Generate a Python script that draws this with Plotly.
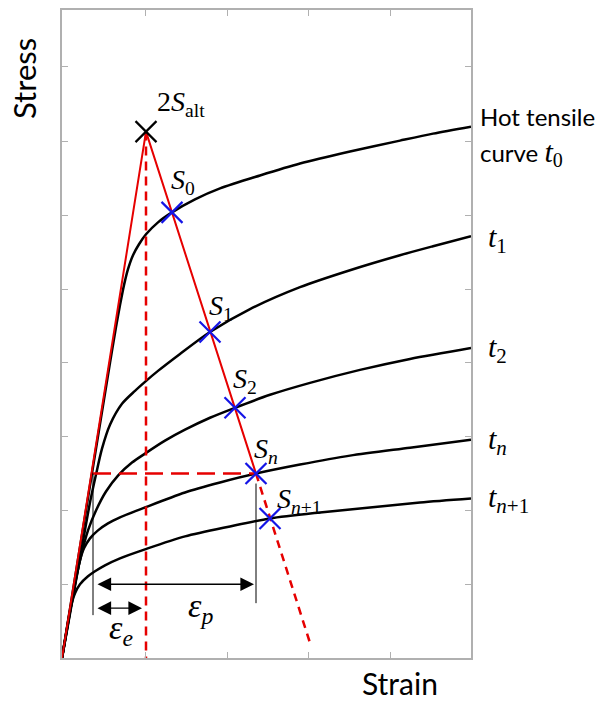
import plotly.graph_objects as go

# ---- data (strain, stress) in arbitrary units ----
t0_x = [0, 28, 48, 54, 58, 62, 66, 71, 77, 84, 96, 110, 133, 158, 198, 238, 288, 338, 371, 409]
t0_y = [0, 173, 296, 332, 354, 374, 390, 404, 415, 425, 437, 447, 460, 471, 484, 496, 508, 519, 526, 533]
t1_x = [0, 18, 28, 34, 40, 48, 60, 73, 83, 96, 118, 148, 188, 238, 288, 338, 371, 409]
t1_y = [0, 100, 156, 184, 210, 234, 255, 268, 277, 288, 305, 327, 350, 372, 389, 404, 413, 423]
t2_x = [0, 10, 18, 26, 34, 44, 56, 70, 83, 103, 123, 148, 173, 208, 248, 298, 348, 409]
t2_y = [0, 58, 98, 128, 148, 167, 183, 196, 205, 218, 229, 241, 251, 264, 276, 289, 300, 311]
tn_x = [0, 8, 14, 18, 22, 28, 36, 46, 58, 83, 123, 158, 194, 238, 288, 348, 409]
tn_y = [0, 46, 80, 98, 110, 120, 128, 135, 141, 151, 166, 176, 185, 194, 203, 211, 219]
tn1_x = [0, 5, 9, 13, 18, 26, 33, 43, 58, 83, 123, 168, 208, 258, 308, 358, 409]
tn1_y = [0, 30, 52, 65, 74, 82, 87, 93, 100, 109, 122, 132, 140, 146, 151, 156, 160]

peak_x, peak_y = 84, 528
s_x = [110, 148, 173, 194, 208]
s_y = [447, 327, 251, 185, 140]
unload_end_x, unload_end_y = 249, 12
eps_left = 31
eps_y_p = 74
eps_y_e = 50

RED = "#e60000"
BLUE = "#1414e6"
GRAY = "#b0b0b0"
MATH = "Liberation Serif"
SANS = "Lato"

fig = go.Figure()

for xs, ys in [(t0_x, t0_y), (t1_x, t1_y), (t2_x, t2_y), (tn_x, tn_y), (tn1_x, tn1_y)]:
    fig.add_trace(go.Scatter(x=xs, y=ys, mode="lines",
                             line=dict(color="black", width=2.5, shape="spline", smoothing=0.8),
                             hoverinfo="skip"))

# red loading / unloading line
fig.add_trace(go.Scatter(x=[0, peak_x, s_x[3]], y=[0, peak_y, s_y[3]], mode="lines",
                         line=dict(color=RED, width=2)))
fig.add_trace(go.Scatter(x=[s_x[3], unload_end_x], y=[s_y[3], unload_end_y], mode="lines",
                         line=dict(color=RED, width=2.5, dash="8px,6px")))
# vertical dashed at peak strain
fig.add_trace(go.Scatter(x=[peak_x, peak_x], y=[peak_y, 0], mode="lines",
                         line=dict(color=RED, width=2.5, dash="9px,6px")))
# horizontal dashed
fig.add_trace(go.Scatter(x=[eps_left, s_x[3]], y=[s_y[3], s_y[3]], mode="lines",
                         line=dict(color=RED, width=2.5, dash="18px,8px")))
# thin black verticals
fig.add_trace(go.Scatter(x=[eps_left, eps_left], y=[s_y[3], 43], mode="lines",
                         line=dict(color="black", width=1)))
fig.add_trace(go.Scatter(x=[s_x[3], s_x[3]], y=[175, 55], mode="lines",
                         line=dict(color="black", width=1)))

# markers
fig.add_trace(go.Scatter(x=s_x, y=s_y, mode="markers",
                         marker=dict(symbol="x-thin", size=21, line=dict(color=BLUE, width=2.2))))
fig.add_trace(go.Scatter(x=[peak_x], y=[peak_y], mode="markers",
                         marker=dict(symbol="x-thin", size=21, line=dict(color="black", width=2.2))))

ann = []
# double arrows
for x0, x1, yy in [(34, 192, eps_y_p), (34, 80, eps_y_e)]:
    ann.append(dict(x=x1, y=yy, ax=x0, ay=yy, xref="x", yref="y", axref="x", ayref="y",
                    text="", showarrow=True, arrowhead=2, arrowside="end+start",
                    arrowsize=2.1, arrowwidth=1.3, arrowcolor="black", standoff=0, startstandoff=0))

def it(base, sub):
    sub_html = "".join("<i>%s</i>" % c if c.isalpha() else c for c in sub)
    return "<i>%s</i><sub>%s</sub>" % (base, sub_html)

ann.append(dict(x=59, y=28, text=it("ε", "e"), showarrow=False,
                font=dict(family=MATH, size=34, color="black")))
ann.append(dict(x=138, y=50, text=it("ε", "p"), showarrow=False,
                font=dict(family=MATH, size=34, color="black")))

# S labels
s_subs = ["0", "1", "2", "n", "n+1"]
s_lab_x = [121, 159, 183, 204, 237]
s_lab_y = [478, 352, 278, 208, 158]
for sub, lx, ly in zip(s_subs, s_lab_x, s_lab_y):
    ann.append(dict(x=lx, y=ly, text=it("S", sub), showarrow=False,
                    font=dict(family=MATH, size=28, color="black")))
ann.append(dict(x=119, y=556, text="2<i>S</i><sub>alt</sub>", showarrow=False,
                font=dict(family=MATH, size=28, color="black")))

# right curve labels (paper coords, outside the axes)
ann.append(dict(x=1.017, y=0.835, xref="paper", yref="paper", text="Hot tensile",
                xanchor="left", yanchor="middle", showarrow=False,
                font=dict(family=SANS, size=24, color="black")))
ann.append(dict(x=1.017, y=0.779, xref="paper", yref="paper",
                text="curve <span style='font-family:%s;font-size:30px'><i>t</i></span><sub><span style='font-family:%s;font-size:20px'>0</span></sub>" % (MATH, MATH),
                xanchor="left", yanchor="middle", showarrow=False,
                font=dict(family=SANS, size=24, color="black")))
for sub, py in zip(["1", "2", "n", "n+1"], [0.646, 0.477, 0.335, 0.246]):
    ann.append(dict(x=1.037, y=py, xref="paper", yref="paper", text=it("t", sub),
                    xanchor="left", yanchor="middle", showarrow=False,
                    font=dict(family=MATH, size=30, color="black")))

# axis titles
ann.append(dict(x=0.826, y=-0.039, xref="paper", yref="paper", text="Strain", showarrow=False,
                xanchor="center", yanchor="middle", font=dict(family=SANS, size=30, color="black")))
ann.append(dict(x=-0.093, y=0.895, xref="paper", yref="paper", text="Stress", showarrow=False,
                xanchor="center", yanchor="middle", textangle=-90,
                font=dict(family=SANS, size=31, color="black")))

fig.update_layout(
    width=603, height=702,
    margin=dict(l=62, r=132, t=8, b=44),
    plot_bgcolor="white", paper_bgcolor="white",
    showlegend=False,
    annotations=ann,
)
fig.update_xaxes(range=[0, 409], tickvals=[83, 165, 246, 328], showticklabels=False, ticks="inside",
                 ticklen=6, tickcolor=GRAY, showline=True, linecolor=GRAY, linewidth=1.5,
                 mirror="ticks", showgrid=False, zeroline=False)
fig.update_yaxes(range=[0, 650], tickvals=[74, 148, 222, 296, 370, 444, 518, 593], showticklabels=False,
                 ticks="inside", ticklen=6, tickcolor=GRAY, showline=True, linecolor=GRAY, linewidth=1.5,
                 mirror="ticks", showgrid=False, zeroline=False)

fig.write_html("out.html", config={"displayModeBar": False})

# remove default page margin so the figure sits at the window origin
with open("out.html", encoding="utf-8") as f:
    html = f.read()
html = html.replace("<head>", "<head><style>html,body{margin:0;padding:0;overflow:hidden;}</style>", 1)
with open("out.html", "w", encoding="utf-8") as f:
    f.write(html)
